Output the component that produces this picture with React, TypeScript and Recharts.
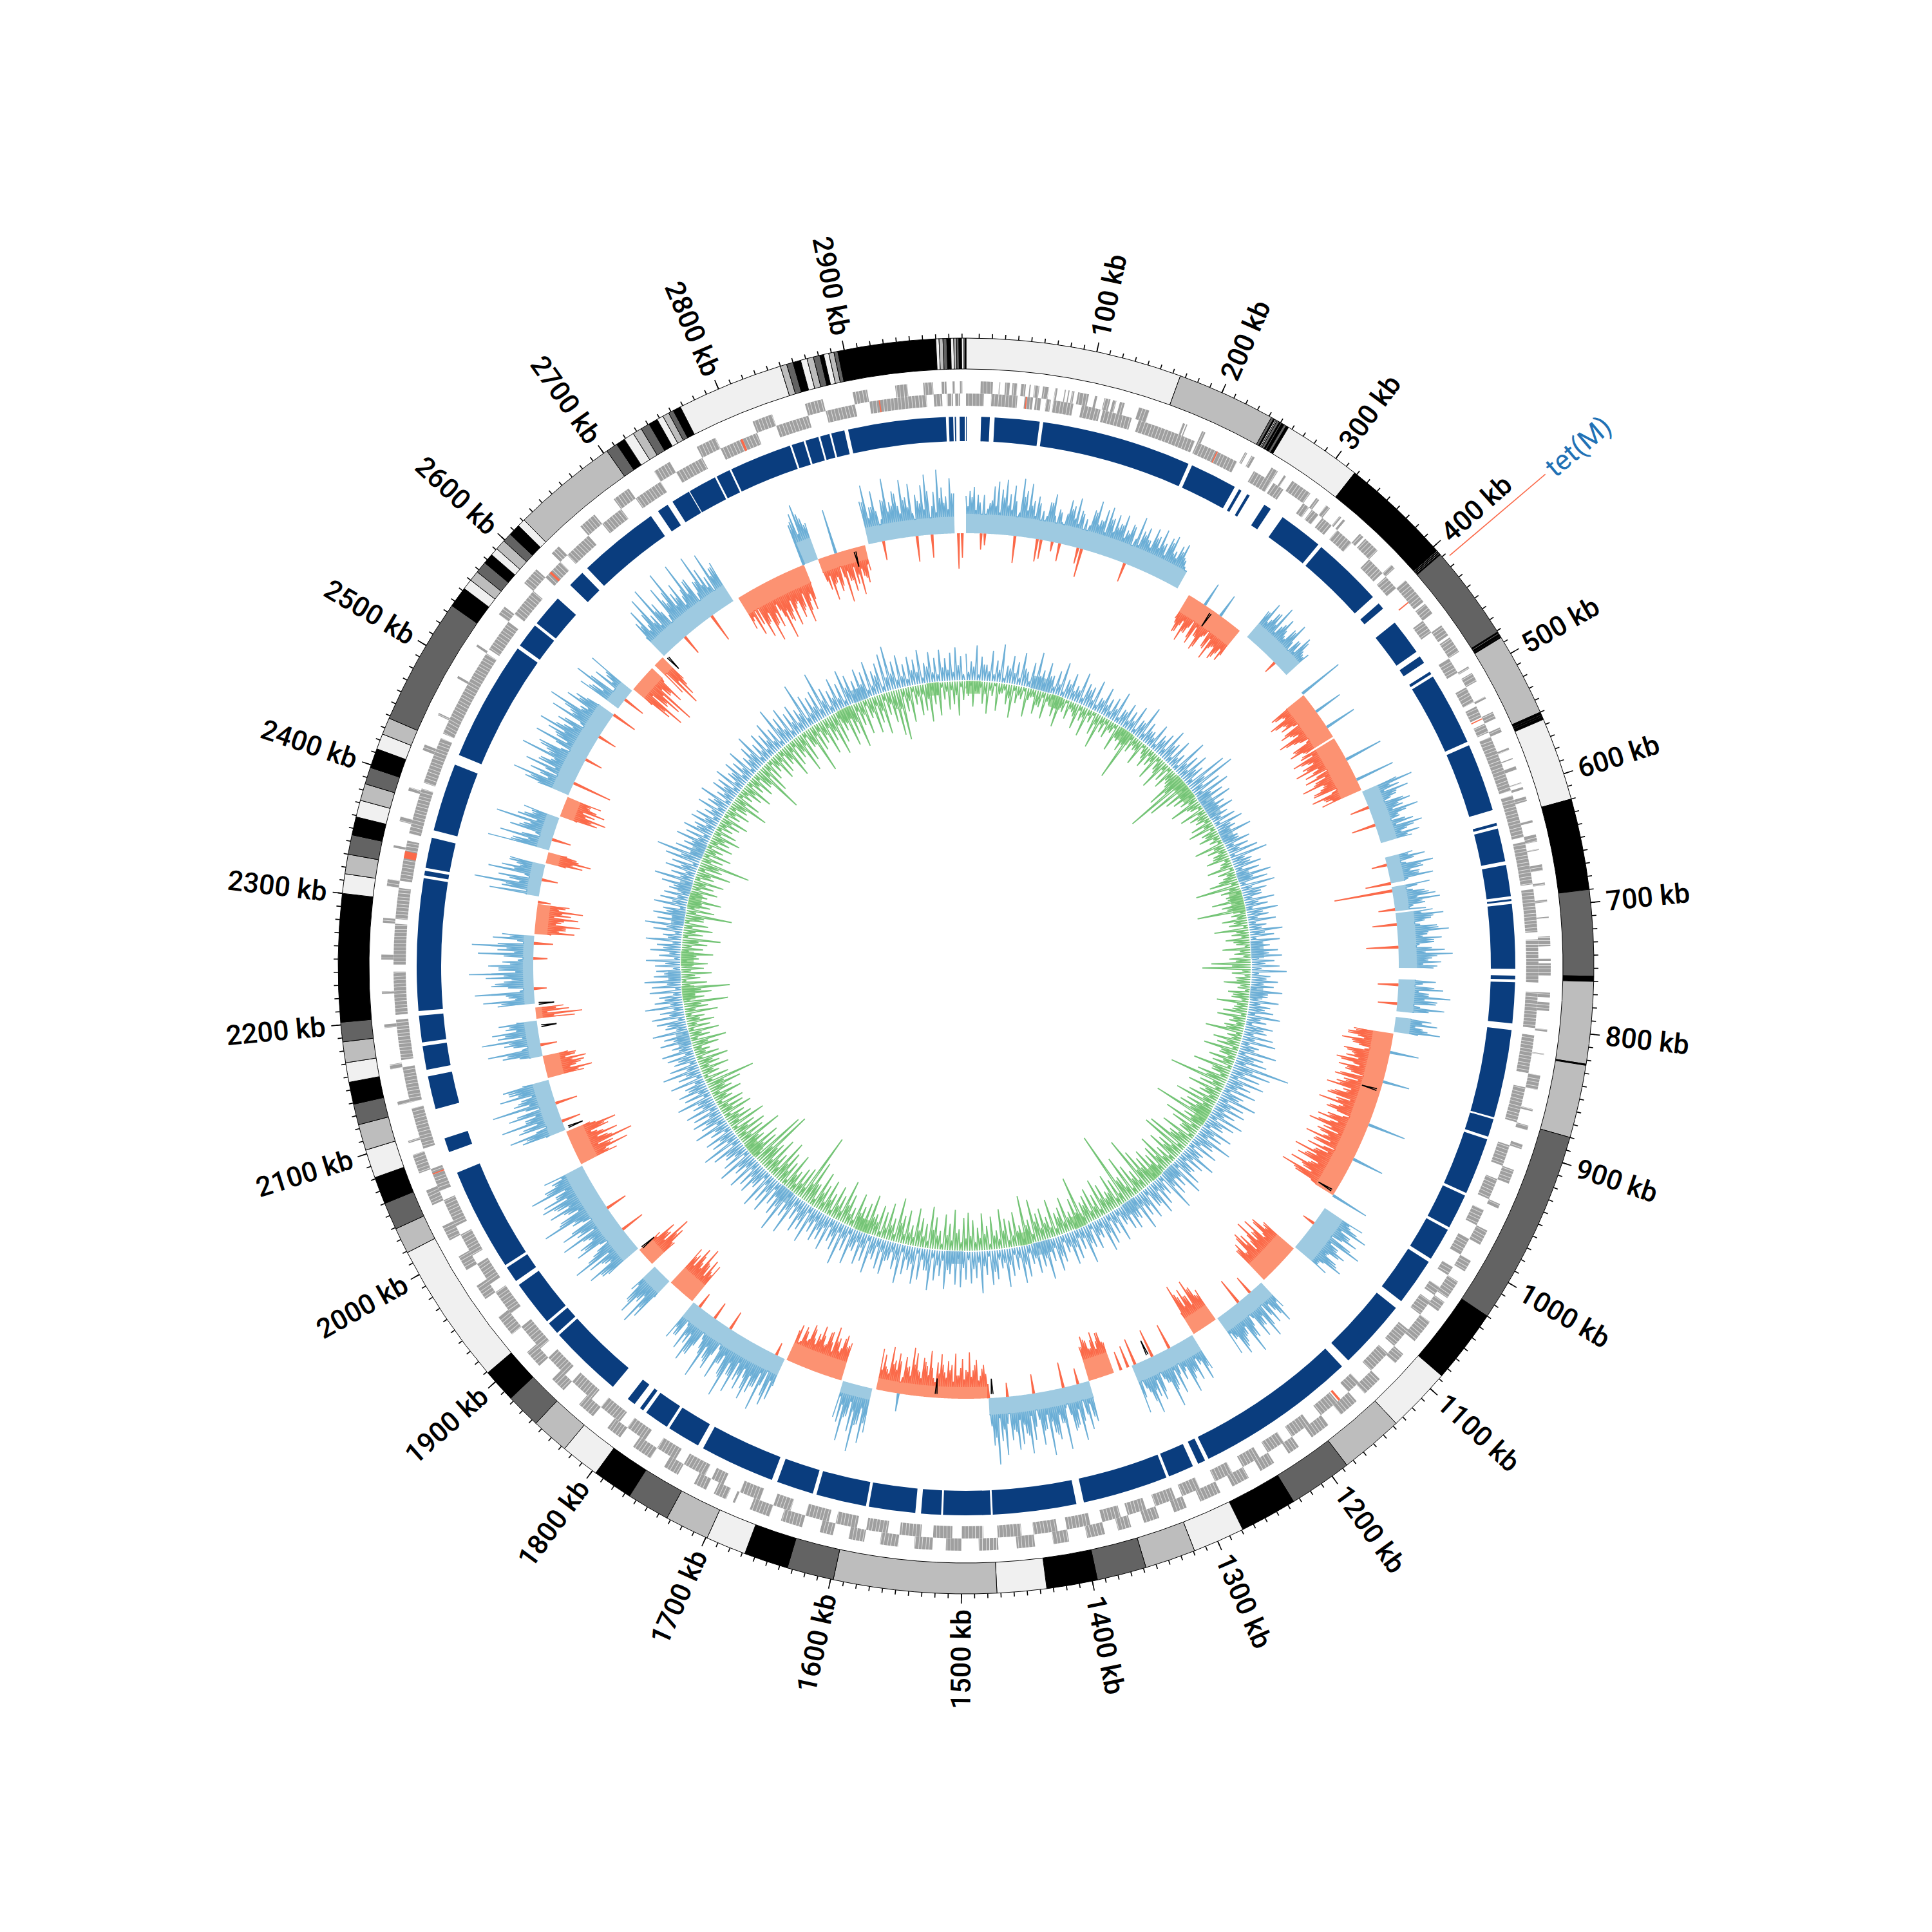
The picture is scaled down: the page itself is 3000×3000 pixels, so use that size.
import React from 'react';
import { Cell, Pie, PieChart, PolarAngleAxis, PolarRadiusAxis, RadialBar, RadialBarChart, Radar, RadarChart } from 'recharts';

const GENOME_KB = 2993;
const CENTER = 3000;
const NO_MARGIN = { top: 0, right: 0, bottom: 0, left: 0 };
const LABEL_FONT = 'Roboto, sans-serif';

const SHADES: Record<string, string> = { L: '#f0f0f0', M: '#bdbdbd', D: '#636363', K: '#000000' };

// contig bands of the outer ring: end of each band in kb, then its shade
const bandEnds = [
  166, 242, 244, 245, 246, 247, 249, 250, 251, 253, 255, 257, 318, 404, 404.6, 405.2, 405.8, 406.4, 407, 408, 481, 482, 483, 484.5, 485, 486,
  550, 552, 552.5, 553.5, 554, 556, 620, 690, 756, 760, 823, 824, 880, 1030, 1087, 1137, 1186, 1235, 1279, 1319, 1358, 1396, 1435, 1473,
  1598, 1634, 1668, 1699, 1733, 1766, 1797, 1827, 1856, 1883, 1909, 2019, 2039, 2060, 2081, 2103, 2123, 2139, 2156, 2171, 2187, 2202, 2300,
  2315, 2330, 2345, 2359, 2372, 2385, 2398, 2413, 2425, 2438, 2536, 2552, 2560, 2568, 2577, 2585, 2591, 2599, 2606, 2615, 2621, 2703, 2712,
  2719, 2727, 2734, 2741, 2748, 2753, 2758, 2762, 2768, 2850, 2855, 2860, 2866, 2871, 2876, 2881, 2884, 2888, 2892, 2895, 2970, 2972.5,
  2975.5, 2978.4, 2981.3, 2983.7, 2985.7, 2987.6, 2989.6, 2991.5, 2992.3, 2993,
];
const bandShades = [
  'LMDKLMDKDKDKLKLKLKLKDKDKDK',
  'MKLKLKLKDKMKMDKLMDKLMDKL',
  'MDKLMDKLMDKLMDKLMDKLMDK',
  'LMDKLMDKLMDKLMDKLMDKLMD',
  'KLMDKLMDKLMDKLMDKLMDKL',
  'MDKLMDKLMK',
].join('');

// contigs of the dark blue ring: pairs of start and end, in degrees clockwise from the top
const contigEdges = [
  0, 0.07, 1.58, 2.49, 2.99, 7.72, 8.09, 23.9, 24.3, 29.3, 29.8, 30.1, 30.8, 31.1, 32.9, 33.7, 35.2, 39.9, 40.3, 47.8, 48.7, 49.4, 51.3, 55.1,
  55.7, 56.5, 57.6, 57.9, 58.2, 65.9, 66.3, 73.5, 74.9, 75.2, 75.5, 79, 79.4, 82.7, 83, 83.2, 83.5, 90.3, 91, 91.4, 91.7, 96, 96.7, 106, 106.2,
  108.1, 108.4, 114.4, 114.7, 118.4, 118.7, 122.2, 122.6, 127.6, 128.5, 135.9, 136.8, 153.8, 154.2, 155, 155.6, 158.3, 158.6, 167.6, 168.4, 177.2,
  177.4, 182.4, 182.6, 184.7, 185.3, 190.2, 190.5, 195.8, 196.2, 200.1, 200.7, 208.6, 209.2, 212.7, 213, 215.6, 216, 216.4, 217.1, 218, 220, 227.8,
  228.1, 229.4, 229.7, 234.5, 235, 236.7, 237, 247.9, 250.2, 251.7, 254.9, 258.4, 259.1, 261.6, 262, 264.8, 265.3, 279.2, 279.5, 280, 280.3, 283.5,
  284.3, 291.5, 292.6, 305.3, 305.7, 308.3, 308.6, 312, 313.9, 315.7, 316.4, 325, 325.9, 327.1, 327.7, 329.7, 329.8, 332.8, 333, 334.5, 334.7, 341.3,
  341.5, 342.8, 343, 344.4, 344.6, 345.6, 345.8, 347.2, 347.6, 357.9, 358.2, 358.66, 358.82, 358.95, 359.33, 359.87,
];

// gene blocks on each strand: pairs of start and end in kb
const outerGenes = [
  12, 22, 27, 28, 32, 36, 38, 42, 45, 49, 52, 53, 56, 60, 63, 68, 73, 75, 81, 82, 84, 85, 87, 89, 92, 101, 106, 108, 114, 119, 121, 124, 127, 131, 143, 152, 181, 183, 184, 185,
  198, 201, 237, 239, 243, 246, 262, 268, 274, 276, 282, 300, 306, 309, 316, 320, 330, 332, 334, 336, 352, 356, 358, 372, 388, 392, 405, 428, 430, 440, 452, 462, 464, 478, 492, 494,
  498, 506, 520, 522, 534, 540, 548, 552, 566, 568, 575, 576, 582, 585, 596, 597, 600, 602, 608, 612, 628, 630, 640, 646, 652, 653, 665, 670, 680, 682, 694, 696, 708, 709, 724, 732,
  742, 744, 746, 756, 770, 774, 778, 785, 800, 802, 820, 821, 838, 850, 866, 868, 880, 884, 896, 900, 918, 930, 948, 952, 972, 985, 1000, 1010, 1020, 1036, 1040, 1049, 1060, 1080,
  1094, 1104, 1122, 1139, 1148, 1165, 1178, 1195, 1208, 1218, 1232, 1245, 1256, 1271, 1282, 1300, 1312, 1323, 1336, 1349, 1360, 1371, 1382, 1397, 1412, 1425, 1440, 1455, 1470, 1486,
  1500, 1513, 1524, 1539, 1552, 1567, 1580, 1593, 1606, 1617, 1632, 1650, 1660, 1677, 1690, 1692, 1698, 1709, 1716, 1727, 1742, 1755, 1768, 1785, 1798, 1811, 1826, 1841, 1858, 1871,
  1886, 1901, 1920, 1938, 1956, 1969, 1984, 1997, 2012, 2025, 2044, 2057, 2072, 2088, 2098, 2100, 2130, 2133, 2160, 2164, 2194, 2197, 2222, 2224, 2250, 2254, 2280, 2284, 2310, 2316,
  2342, 2344, 2364, 2368, 2390, 2393, 2425, 2430, 2456, 2458, 2490, 2492, 2520, 2522, 2552, 2560, 2585, 2600, 2618, 2626, 2650, 2665, 2685, 2700, 2725, 2740, 2765, 2782, 2815, 2832,
  2860, 2875, 2900, 2912, 2935, 2945, 2958, 2966, 2973, 2977, 2982, 2984, 2988, 2990,
];
const innerGenes = [
  0, 15, 21, 43, 49, 56, 58, 63, 67, 71, 73, 90, 97, 113, 115, 140, 146, 196, 198, 235, 251, 268, 270, 280, 300, 306, 309, 316, 320, 330, 336, 352, 372, 388, 392, 405,
  440, 452, 478, 492, 506, 520, 524, 534, 540, 548, 552, 600, 604, 640, 644, 680, 684, 720, 726, 762, 770, 800, 806, 838, 850, 880, 900, 918, 930, 948, 958, 972, 985, 1000,
  1012, 1020, 1032, 1040, 1046, 1060, 1076, 1094, 1102, 1122, 1136, 1148, 1160, 1178, 1190, 1208, 1216, 1232, 1240, 1256, 1266, 1282, 1296, 1312, 1318, 1336, 1344, 1360, 1366, 1382,
  1392, 1412, 1420, 1440, 1450, 1470, 1482, 1500, 1508, 1524, 1534, 1552, 1562, 1580, 1588, 1606, 1612, 1632, 1645, 1660, 1672, 1690, 1705, 1716, 1722, 1742, 1750, 1768, 1780, 1798,
  1806, 1826, 1836, 1858, 1866, 1886, 1896, 1920, 1934, 1956, 1964, 1984, 1992, 2012, 2020, 2044, 2052, 2072, 2090, 2125, 2130, 2160, 2166, 2200, 2204, 2240, 2246, 2280, 2284, 2310,
  2316, 2350, 2356, 2395, 2400, 2440, 2444, 2520, 2524, 2552, 2560, 2585, 2600, 2618, 2626, 2650, 2665, 2685, 2700, 2725, 2740, 2765, 2782, 2815, 2832, 2860, 2875, 2900, 2912, 2960,
  2966, 2973, 2977, 2982, 2984, 2988,
];
const redGenes = [50, 51, 216, 217, 420, 421, 535, 536, 1157, 1159, 2067, 2068, 2335, 2341, 2605, 2607, 2800, 2802, 2920, 2921];

// signed regions of the outer signal track: start, end (degrees), filled band height
const skewStarts = [0, 31, 40.5, 51.25, 58.25, 66.25, 75.5, 79.5, 83, 91.75, 96.75, 99, 124, 130.75, 137, 144.75, 148.5, 160, 163.5, 177, 192.5, 196.75, 204.75, 219.25, 223.25, 226.5, 229.25, 242.75, 247.75, 255, 258, 263, 265, 274.25, 279.25, 283.75, 285.5, 290.25, 293.25, 306.5, 309.75, 314, 315.75, 328.25, 338, 340, 347];
const skewEnds = [29.25, 39.25, 47.75, 58, 66, 73.5, 79, 82.75, 90.25, 96, 98.75, 122, 130.5, 136.5, 144.5, 148.25, 157.5, 163.5, 177, 192, 196.5, 204.5, 219, 223, 226, 229, 242.5, 247.5, 254.75, 258, 262.75, 264.5, 274, 278.25, 283.5, 285.25, 290, 293, 305.5, 309.5, 313.5, 315.5, 327.5, 338, 340, 346.5, 358.5];
const skewBands = [30, -30, 28, -34, -34, 26, 22, 22, 28, 26, 24, -32, 34, -34, 26, -28, 28, -34, 26, -18, 18, -30, 28, -32, 26, -26, 30, -28, 26, -26, 20, -10, 16, -20, 20, -20, 20, -22, 28, 22, -22, -22, 30, -30, 36, -22, 26];

// peaks of the outer signal track, one line per 30 degrees, one value per half degree
const skewPeaks = [
  [58, 66, 72, 60, -25, -18, 48, 74, 82, 70, 86, 64, 78, -42, 90, 72, 84, 58, 66, -35, -30, 60, 74, -15, 48, -28, 70, 62, 76, 58, -25, -45, 64, 80, 52, 70, 76, 60, 68, 56, 72, 50, 62, -30, 78, 58, 66, 48, 70, 60, 74, 54, 66, 72, 50, 62, 68, 44, 0, 0],
  [0, 0, -42, -62, -48, -71, -55, 38, -66, -50, -70, -44, 37, -58, -72, -48, -65, -52, -60, 0, 0, 52, 70, 45, 62, 78, 48, 66, 40, 58, 72, -20, 50, 64, 44, 38, 0, 0, 0, 0, 0, 0, 72, -65, -48, -75, -55, -62, 45, -70, -52, -80, -58, 50, -66, -74, -50, -62, -78, -56],
  [-68, -82, -56, 60, -74, -60, -84, -52, -70, 62, -78, -58, -66, 82, 58, 70, 48, -30, 66, 52, 74, 40, -38, 60, 72, 46, 64, 50, 0, 0, 0, 44, 62, -24, 72, 55, 48, 68, -40, 60, -91, 50, 66, 72, 48, -26, 58, 74, 54, -38, 62, 80, 46, 68, 56, -50, 72, 84, 52, 66],
  [60, 0, 0, 0, 58, -32, 70, 48, 82, 62, -30, 74, 0, 0, 56, 66, 44, 72, -62, -70, -54, -78, -60, 45, -72, -58, -66, -80, -52, -74, -62, 42, -76, -60, -70, -84, -56, -68, -78, -62, -88, -54, -72, 60, -66, -80, -58, -90, -64, -72, -52, -86, -68, 50, -76, -60, -92, -70, -82, -56],
  [-88, -64, -98, -72, 60, 0, 0, 0, 70, 52, 84, 60, 76, -20, 90, 56, 72, 48, 66, 80, 44, 62, -60, -78, -52, -85, -66, -90, -58, -74, -82, -50, -70, -62, 50, 72, 46, 64, -30, 80, 54, 70, -42, 62, 84, 48, 58, 74, 44, 66, -48, -66, -80, -58, -72, -62, -84, 60, 74, 46],
  [68, 52, 82, 44, -40, 74, 58, 90, 48, -45, 70, 62, 86, 50, -42, 78, -35, 0, -30, 0, -50, -68, -56, -72, -48, -62, -70, -55, 56, 74, -25, 88, 62, 70, -40, 96, 54, 78, 66, 100, 58, 82, -30, 72, 92, 60, 76, 84, 52, -22, 90, 68, 104, 74, -22, -52, -35, -60, -44, -72],
  [-45, -62, -36, -70, -52, -58, -40, -68, -55, -30, -72, -48, -60, -38, -66, -74, -44, -58, 28, -62, -50, -70, -34, -56, -64, 70, 88, 60, 104, 74, 52, 92, 64, 58, -55, -70, -48, -62, -78, -52, -66, -44, -72, -58, -48, -68, -40, -60, -32, -50, 70, 82, -20, 96, 62, 74, 88, 56, 78, 66],
  [90, 64, 104, 70, 56, 84, -30, 76, 62, 98, 52, -28, 72, 86, 60, 74, -25, 58, 68, -50, -72, -60, -85, -56, -78, -62, -70, 76, 92, 58, 84, 66, 50, -48, -70, -85, -55, -66, -42, 70, 88, 54, 78, 100, 62, -38, 82, 72, 52, 94, 64, 86, -34, 60, 106, 74, 56, 84, 68, 90],
  [84, 60, 98, 72, 56, 66, -50, -84, -62, -96, -58, -76, -45, -66, -80, -40, 70, 88, -30, 62, 94, 54, 78, -35, 100, 64, 50, 82, 66, 74, -58, -72, -48, -62, -66, -50, -40, 62, 84, -26, 56, 90, 64, 72, 50, 60, -60, -72, -52, -44, 58, 80, 40, 92, -20, 66, 46, 74, 100, 54],
  [70, 48, -22, 86, 56, 96, -30, 64, 50, -62, -48, -70, -40, -66, -54, -72, -44, -20, 0, 78, 60, 104, 50, -25, 86, 66, 44, 56, -58, -70, -46, 98, 60, 82, -30, 70, 50, 96, 64, 42, 58, -60, -72, -52, -66, -40, -56, 74, 96, 54, -62, 84, 66, 48, 100, 62, 78, -28, 90, 58],
  [76, 94, 56, 70, -30, 88, 60, 100, 50, 78, 66, -40, 0, 72, 54, 88, -35, 62, 46, 80, -70, -90, -58, -76, -95, -50, -66, 0, -60, -85, -72, -46, 66, 84, 52, 96, 60, 104, 72, -32, 90, 58, 108, 66, 78, 52, 104, 70, -45, 60, 100, 74, 56, 92, 64, 70, 0, -44, -70, -56],
  [-80, -58, -92, -66, -74, -50, -98, -70, -60, -84, -52, -76, -62, -88, -56, -72, 66, 82, 94, 70, 60, -52, -70, -44, -60, 70, -80, -48, -66, -56, -74, -46, -58, -40, 68, 92, 56, 80, -30, 64, 96, 58, 74, 50, 90, 62, 82, -40, 54, 78, 94, -36, 66, 100, 72, 58, 86, 62, -55, -38],
];
// smaller peaks between those, measured from the filled band outwards, same layout
const skewSmall = [
  [12, 26, 6, 18, 30, 9, 22, 14, 4, 28, 16, 10, 24, 7, 32, 12, 20, 5, 26, 15, 8, 30, 11, 22, 3, 18, 27, 13, 6, 24, 17, 9, 31, 14, 21, 5, 28, 10, 19, 25, 7, 16, 29, 12, 4, 23, 18, 8, 26, 13, 20, 6, 30, 15, 10, 24, 17, 5, 0, 0],
  [0, 0, 18, 30, 9, 24, 14, 28, 6, 20, 34, 11, 26, 8, 22, 16, 30, 12, 19, 0, 0, 24, 10, 32, 16, 6, 26, 20, 9, 28, 14, 22, 5, 30, 12, 18, 0, 0, 0, 0, 0, 0, 0, 26, 12, 34, 18, 8, 28, 22, 10, 36, 15, 6, 30, 19, 24, 9, 32, 14],
  [28, 12, 36, 20, 8, 30, 16, 24, 38, 10, 26, 14, 32, 18, 6, 24, 12, 30, 20, 8, 28, 15, 22, 5, 32, 10, 18, 26, 0, 0, 0, 14, 22, 8, 30, 12, 24, 6, 28, 18, 10, 34, 15, 22, 7, 26, 12, 30, 16, 8, 36, 20, 11, 28, 5, 24, 14, 32, 18, 10],
  [26, 0, 0, 0, 12, 30, 6, 22, 16, 34, 10, 24, 0, 0, 18, 8, 28, 14, 26, 38, 12, 30, 18, 8, 34, 22, 14, 40, 10, 28, 20, 36, 6, 24, 32, 12, 18, 42, 8, 26, 16, 36, 22, 10, 30, 14, 44, 20, 6, 34, 26, 12, 38, 18, 8, 30, 22, 40, 14, 28],
  [36, 16, 44, 10, 24, 0, 0, 0, 14, 32, 8, 26, 18, 38, 6, 22, 30, 12, 36, 16, 10, 28, 20, 40, 12, 30, 18, 34, 8, 24, 42, 16, 28, 10, 12, 30, 6, 22, 36, 14, 26, 8, 18, 32, 10, 24, 38, 16, 5, 28, 22, 36, 12, 30, 16, 40, 10, 26, 14, 6],
  [24, 34, 10, 28, 16, 6, 36, 20, 12, 30, 8, 22, 38, 14, 26, 10, 0, 0, 0, 0, 18, 34, 10, 26, 14, 30, 20, 38, 8, 24, 32, 12, 40, 18, 6, 28, 14, 44, 22, 10, 34, 16, 26, 8, 38, 20, 12, 30, 42, 16, 24, 6, 36, 18, 20, 28, 10, 34, 16, 24],
  [12, 30, 18, 8, 26, 14, 34, 20, 6, 28, 16, 36, 10, 22, 30, 12, 24, 8, 32, 18, 26, 10, 20, 14, 28, 38, 16, 44, 24, 10, 36, 18, 6, 30, 22, 34, 12, 26, 8, 38, 16, 28, 20, 10, 32, 14, 24, 6, 30, 18, 12, 40, 26, 8, 34, 20, 44, 14, 28, 10],
  [36, 18, 46, 12, 28, 8, 22, 38, 16, 32, 10, 26, 42, 14, 20, 6, 30, 18, 36, 22, 10, 30, 16, 34, 12, 24, 8, 36, 18, 28, 42, 12, 24, 20, 34, 14, 26, 8, 30, 40, 16, 28, 10, 44, 22, 12, 36, 18, 30, 6, 26, 38, 14, 24, 48, 10, 32, 20, 42, 16],
  [30, 12, 40, 22, 8, 34, 18, 28, 10, 36, 14, 26, 8, 32, 20, 6, 36, 18, 44, 12, 28, 10, 38, 22, 14, 30, 6, 26, 40, 16, 24, 12, 30, 18, 8, 26, 16, 34, 10, 22, 28, 6, 32, 14, 24, 12, 18, 8, 22, 10, 36, 14, 28, 6, 24, 44, 18, 30, 12, 38],
  [20, 8, 30, 14, 26, 40, 10, 22, 6, 18, 28, 12, 24, 8, 20, 14, 30, 10, 0, 0, 34, 14, 48, 8, 26, 18, 36, 12, 22, 30, 10, 42, 16, 28, 8, 36, 20, 12, 34, 24, 6, 28, 16, 10, 30, 18, 24, 38, 12, 44, 22, 8, 36, 16, 28, 46, 14, 26, 10, 34],
  [22, 40, 14, 32, 8, 26, 44, 18, 10, 30, 20, 6, 24, 36, 14, 42, 0, 10, 28, 16, 38, 8, 32, 20, 12, 26, 6, 18, 0, 22, 34, 10, 28, 14, 40, 18, 8, 30, 24, 12, 36, 46, 16, 26, 8, 32, 20, 42, 12, 28, 18, 10, 0, 22, 34, 14, 26, 8, 0, 0],
  [30, 14, 38, 20, 8, 32, 24, 44, 12, 28, 18, 36, 10, 40, 16, 26, 34, 12, 42, 22, 16, 8, 24, 14, 30, 18, 10, 26, 6, 20, 12, 28, 8, 16, 40, 14, 30, 22, 8, 36, 18, 26, 44, 12, 32, 20, 10, 38, 24, 14, 42, 18, 8, 30, 22, 12, 36, 16, 0, 0],
];
// short black ticks that sit on the outer track, degrees
const skewBlackMarks = [34.75, 106.75, 121.5, 155, 176.5, 184, 229, 248, 262, 265, 316, 345];

// inner signal track, one value per degree, one line per 30 degrees
const depthPeaks = [
  [42, 30, 55, 38, 26, 48, 34, 60, 28, 44, 36, 52, 24, 40, 58, 32, 46, 28, 38, 54, 30, 42, 26, 50, 36, 34, 48, 24, 44, 30],
  [36, 50, 26, 40, 32, 46, 28, 56, 34, 24, 42, 30, 38, 52, 34, 46, 28, 60, 40, 50, 36, 70, 79, 48, 58, 42, 50, 34, 44, 30],
  [38, 46, 30, 52, 26, 42, 36, 48, 60, 32, 44, 38, 54, 46, 55, 40, 30, 48, 36, 50, 34, 44, 28, 52, 38, 46, 30, 42, 48, 36],
  [44, 55, 30, 42, 36, 50, 28, 46, 34, 40, 52, 32, 44, 36, 48, 54, 30, 60, 42, 50, 89, 62, 48, 58, 40, 52, 36, 60, 44, 50],
  [38, 56, 46, 32, 52, 40, 62, 36, 48, 30, 56, 42, 34, 50, 60, 38, 46, 66, 32, 44, 54, 36, 50, 40, 58, 34, 46, 42, 30, 52],
  [36, 48, 56, 30, 44, 38, 60, 34, 46, 52, 30, 42, 54, 36, 62, 40, 48, 32, 50, 58, 36, 44, 60, 30, 46, 54, 38, 66, 42, 50],
  [44, 56, 52, 36, 60, 40, 48, 64, 34, 50, 58, 38, 46, 62, 42, 30, 54, 48, 36, 60, 44, 52, 34, 58, 40, 66, 46, 36, 54, 42],
  [48, 38, 60, 44, 52, 36, 66, 42, 73, 50, 38, 58, 46, 62, 34, 50, 44, 56, 38, 60, 46, 36, 52, 64, 42, 48, 34, 56, 40, 50],
  [44, 52, 36, 58, 42, 48, 34, 54, 38, 60, 46, 36, 44, 50, 32, 48, 40, 56, 34, 46, 52, 38, 60, 44, 36, 50, 46, 57, 42, 38],
  [40, 54, 34, 48, 38, 56, 30, 46, 60, 42, 50, 36, 52, 44, 40, 34, 48, 62, 38, 50, 42, 56, 73, 46, 36, 52, 40, 48, 34, 44],
  [40, 30, 46, 34, 52, 28, 42, 38, 48, 32, 44, 36, 50, 30, 42, 56, 34, 46, 38, 52, 36, 65, 44, 54, 40, 48, 36, 74, 50, 42],
  [48, 74, 44, 36, 52, 40, 58, 46, 34, 50, 42, 56, 38, 48, 60, 70, 44, 52, 36, 46, 40, 54, 32, 48, 38, 50, 36, 44, 52, 38],
];
const depthPeaksMinor = [
  [14, 22, 10, 26, 16, 12, 20, 8, 24, 18, 12, 28, 10, 16, 22, 14, 26, 12, 18, 9, 24, 16, 20, 11, 28, 14, 10, 22, 18, 12],
  [20, 10, 24, 14, 18, 9, 26, 12, 22, 16, 10, 24, 14, 28, 12, 18, 10, 22, 16, 26, 12, 30, 20, 14, 24, 10, 18, 22, 12, 16],
  [10, 24, 18, 12, 26, 14, 20, 9, 22, 28, 12, 16, 24, 10, 18, 30, 14, 22, 11, 26, 16, 12, 20, 24, 10, 18, 14, 28, 12, 22],
  [16, 12, 24, 20, 10, 28, 14, 18, 26, 12, 22, 10, 30, 16, 20, 14, 24, 12, 28, 18, 32, 22, 14, 26, 20, 12, 30, 16, 24, 18],
  [22, 14, 28, 12, 24, 18, 32, 16, 10, 26, 20, 14, 30, 12, 24, 18, 28, 10, 22, 16, 34, 12, 26, 20, 14, 30, 18, 24, 12, 20],
  [12, 28, 16, 24, 10, 30, 18, 14, 26, 22, 12, 32, 16, 20, 28, 10, 24, 14, 30, 18, 12, 26, 22, 16, 34, 10, 24, 18, 28, 14],
  [26, 12, 20, 30, 16, 24, 14, 34, 18, 10, 28, 22, 12, 26, 16, 32, 20, 14, 28, 10, 24, 18, 30, 12, 22, 16, 26, 14, 20, 28],
  [18, 24, 12, 30, 20, 16, 28, 10, 34, 22, 14, 26, 18, 12, 30, 24, 16, 20, 28, 10, 22, 32, 14, 18, 26, 12, 24, 16, 30, 20],
  [14, 22, 26, 12, 18, 30, 16, 10, 24, 20, 12, 28, 14, 22, 16, 26, 10, 18, 30, 12, 24, 16, 20, 28, 14, 10, 22, 18, 26, 12],
  [24, 10, 18, 28, 14, 22, 12, 26, 16, 20, 30, 10, 24, 18, 14, 28, 12, 22, 16, 26, 10, 32, 20, 14, 24, 18, 12, 28, 16, 22],
  [12, 20, 14, 26, 10, 18, 24, 12, 16, 28, 14, 20, 10, 22, 26, 12, 18, 14, 24, 16, 10, 28, 20, 12, 22, 16, 26, 14, 18, 24],
  [16, 26, 12, 22, 18, 10, 28, 14, 20, 24, 12, 16, 30, 10, 22, 26, 14, 18, 12, 24, 20, 10, 26, 16, 12, 22, 18, 14, 24, 10],
];
const depthDips = [
  [-24, -40, -18, -35, -50, -22, -44, -16, -32, -52, -28, -20, -46, -14, -38, -26, -42, -18, -34, -48, -22, -30, -16, -40, -24, -46, -20, -36, -55, -26],
  [-30, -18, -44, -24, -36, -80, -28, -20, -40, -16, -34, -26, -44, -22, -50, -30, -38, -24, -60, -103, -70, -45, -36, -28, -50, -20, -42, -30, -24, -36],
  [-44, -26, -34, -20, -48, -30, -24, -38, -18, -42, -28, -22, -46, -70, -32, -26, -50, -36, -76, -24, -40, -30, -54, -28, -38, -22, -44, -26, -34, -62],
  [-76, -30, -24, -42, -20, -34, -28, -50, -22, -38, -46, -26, -32, -60, -24, -44, -36, -55, -28, -42, -34, -62, -30, -50, -92, -40, -56, -34, -48, -66],
  [-44, -52, -90, -36, -64, -48, -30, -56, -38, -70, -75, -42, -54, -34, -60, -46, -38, -52, -44, -62, -88, -36, -50, -70, -40, -119, -44, -56, -32, -48],
  [-60, -38, -52, -44, -36, -80, -48, -30, -56, -42, -36, -60, -34, -50, -44, -68, -38, -77, -32, -54, -42, -46, -62, -30, -52, -38, -58, -36, -48, -60],
  [-52, -34, -64, -42, -56, -30, -50, -66, -38, -46, -60, -32, -54, -44, -70, -36, -58, -42, -50, -34, -62, -46, -38, -56, -30, -48, -68, -40, -52, -36],
  [-54, -42, -60, -36, -70, -112, -50, -44, -34, -58, -40, -52, -66, -38, -60, -46, -98, -90, -48, -56, -36, -70, -44, -52, -38, -60, -42, -34, -50, -40],
  [-44, -30, -48, -36, -54, -79, -40, -28, -46, -34, -50, -38, -26, -42, -56, -32, -48, -36, -44, -30, -52, -38, -70, -34, -46, -75, -40, -30, -48, -36],
  [-42, -28, -50, -34, -40, -60, -32, -46, -38, -30, -73, -44, -36, -52, -28, -42, -34, -48, -30, -54, -38, -80, -34, -44, -28, -40, -32, -46, -36, -26],
  [-34, -44, -26, -38, -30, -60, -42, -24, -36, -48, -28, -40, -32, -80, -50, -34, -26, -44, -38, -30, -56, -42, -34, -62, -48, -30, -76, -44, -36, -58],
  [-40, -66, -50, -34, -62, -46, -70, -38, -54, -32, -58, -44, -64, -36, -50, -72, -81, -38, -56, -30, -48, -42, -60, -34, -52, -28, -44, -36, -54, -30],
];
const depthDipsMinor = [
  [-12, -8, -16, -10, -20, -14, -6, -18, -11, -22, -9, -15, -7, -19, -12, -24, -10, -14, -8, -20, -16, -6, -13, -22, -9, -17, -11, -7, -18, -14],
  [-10, -16, -8, -20, -12, -24, -9, -14, -18, -7, -22, -11, -16, -9, -26, -13, -8, -20, -28, -34, -18, -12, -22, -10, -16, -24, -8, -14, -19, -11],
  [-16, -9, -22, -12, -8, -18, -14, -26, -10, -20, -7, -15, -30, -12, -18, -9, -24, -14, -28, -10, -16, -22, -8, -20, -13, -26, -9, -17, -12, -24],
  [-30, -14, -10, -22, -16, -8, -26, -12, -18, -24, -9, -20, -14, -28, -11, -16, -22, -10, -26, -13, -18, -8, -30, -14, -34, -20, -12, -26, -16, -22],
  [-18, -26, -32, -12, -22, -16, -28, -10, -24, -34, -14, -20, -30, -12, -18, -26, -14, -22, -10, -28, -30, -16, -24, -12, -20, -36, -18, -14, -28, -22],
  [-26, -12, -20, -16, -30, -14, -24, -10, -22, -18, -28, -12, -16, -26, -20, -32, -14, -30, -10, -24, -18, -12, -28, -16, -22, -10, -26, -20, -14, -24],
  [-20, -14, -28, -16, -24, -10, -22, -30, -12, -18, -26, -14, -20, -16, -32, -12, -24, -18, -10, -22, -28, -14, -20, -26, -12, -18, -30, -16, -22, -10],
  [-24, -16, -28, -12, -34, -30, -18, -20, -14, -26, -10, -22, -30, -16, -24, -18, -36, -32, -12, -26, -14, -28, -20, -16, -24, -10, -18, -22, -12, -20],
  [-16, -10, -22, -14, -26, -28, -12, -8, -20, -16, -24, -10, -18, -14, -26, -12, -20, -9, -16, -22, -10, -18, -28, -12, -20, -30, -14, -8, -22, -16],
  [-18, -10, -24, -12, -16, -26, -9, -20, -14, -8, -30, -16, -12, -22, -10, -18, -14, -20, -9, -24, -12, -32, -16, -10, -18, -8, -14, -22, -12, -9],
  [-14, -18, -8, -16, -12, -26, -20, -9, -14, -22, -10, -18, -12, -30, -20, -14, -9, -18, -16, -11, -24, -16, -12, -26, -20, -10, -28, -18, -14, -24],
  [-16, -26, -20, -12, -24, -18, -28, -14, -22, -10, -24, -16, -26, -12, -20, -30, -32, -14, -22, -10, -18, -16, -24, -12, -20, -9, -16, -14, -22, -10],
];

// thick patches where the inner track fills solid, degrees
const depthUpPatches = [13, 17, 54, 59, 62, 64.5, 71, 73, 85, 88.5, 94, 96.5, 134, 136.5, 144, 147, 163, 166.5, 180.5, 184, 217, 220, 254, 257, 267, 269, 278, 281, 284.5, 287, 292, 295, 337, 340];
const depthDownPatches = [0, 3, 17.5, 20, 33, 36, 48, 53.5, 74.5, 79, 120.5, 124, 136.5, 139, 155, 157.5, 166.5, 169, 200, 203, 228, 231, 263, 266, 270, 273, 282, 285, 333, 336, 352, 354.5];

const majorTicks = [100, 200, 300, 400, 500, 600, 700, 800, 900, 1000, 1100, 1200, 1300, 1400, 1500, 1600, 1700, 1800, 1900, 2000, 2100, 2200, 2300, 2400, 2500, 2600, 2700, 2800, 2900];
const minorTicks = Array.from({ length: 299 }, (_, i) => (i + 1) * 10);
const tetMTick = [413];
const stripeAngles = Array.from({ length: 72 }, (_, i) => i * 5);

// alternate empty and drawn slices so a ring can be laid out by a Pie
function toSlices(edges: number[], total: number) {
  const slices: { size: number; drawn: boolean; mid: number }[] = [];
  let cursor = 0;
  for (let i = 0; i < edges.length; i += 2) {
    slices.push({ size: Math.max(edges[i] - cursor, 0), drawn: false, mid: 0 });
    slices.push({ size: edges[i + 1] - edges[i], drawn: true, mid: (edges[i] + edges[i + 1]) / 2 / total });
    cursor = edges[i + 1];
  }
  slices.push({ size: Math.max(total - cursor, 0), drawn: false, mid: 0 });
  return slices;
}

const bandRows = bandEnds.map((end, i) => ({ size: end - (i ? bandEnds[i - 1] : 0), shade: bandShades[i] || 'L' }));
const contigRows = toSlices(contigEdges, 360);
const outerGeneRows = toSlices(outerGenes, GENOME_KB);
const innerGeneRows = toSlices(innerGenes, GENOME_KB);
const redGeneRows = toSlices(redGenes, GENOME_KB);
const depthUpRows = toSlices(depthUpPatches, 360);
const depthDownRows = toSlices(depthDownPatches, 360);

const geneFill = (row: { drawn: boolean; mid: number }) => (row.drawn ? `url(#gene-stripes-${Math.round(row.mid * 72) % 72})` : 'none');

// eighth of a degree grid for the outer track: big peaks at every half degree, small ones between
const SKEW_STEPS = 2880;
const skewGrid = Array.from({ length: SKEW_STEPS }, (_, j) => ({ j }));
const halfStep = (j: number) => Math.floor(j / 4);
const skewAt = (j: number) => (j % 4 === 0 ? (skewPeaks[Math.floor(j / 240)][halfStep(j) % 60] ?? 0) : 0);
const smallAt = (j: number) => skewSmall[Math.floor(j / 240)][halfStep(j) % 60] ?? 0;

const skewRegionKeys = skewStarts.map((start, r) => (row: { j: number }) => {
  const { j } = row;
  if (j < start * 8 || j > skewEnds[r] * 8) return null;
  const band = skewBands[r];
  if (j % 2) return [0, band];
  if (j % 4 === 2) return [0, band > 0 ? band + smallAt(j) : band - smallAt(j)];
  const v = skewAt(j);
  if (band > 0) return [0, v > band ? v : band];
  return [0, v < band ? v : band];
});

const regionOf = (j: number) => skewStarts.findIndex((start, r) => j >= start * 8 && j <= skewEnds[r] * 8);
const overlayKey = (sign: number) => (row: { j: number }) => {
  const spike = (k: number) => {
    const v = skewAt(((k % SKEW_STEPS) + SKEW_STEPS) % SKEW_STEPS);
    if (v * sign <= 0) return false;
    const r = regionOf(k);
    return r < 0 || skewBands[r] * sign < 0;
  };
  if (spike(row.j)) return skewAt(row.j);
  if (spike(row.j - 1) || spike(row.j + 1)) return 0;
  return null;
};
const skewUpKey = overlayKey(1);
const skewDownKey = overlayKey(-1);
const skewBlackKey = (row: { j: number }) => {
  if (skewBlackMarks.includes(row.j / 8)) return -30;
  if (skewBlackMarks.includes((row.j - 1) / 8) || skewBlackMarks.includes((row.j + 1) / 8)) return -6;
  return null;
};

// quarter degree grid for the inner track, big and small peaks take turns
const depthGrid = Array.from({ length: 1440 }, (_, j) => ({ j }));
const depthUpKey = (row: { j: number }) => {
  const { j } = row;
  if (j % 2) return 1;
  const deg = Math.floor(j / 4);
  return (j % 4 === 0 ? depthPeaks : depthPeaksMinor)[Math.floor(deg / 30)][deg % 30];
};
const depthDownKey = (row: { j: number }) => {
  const { j } = row;
  if (j % 2) return -1;
  const deg = Math.floor(j / 4);
  return (j % 4 === 2 ? depthDips : depthDipsMinor)[Math.floor(deg / 30)][deg % 30];
};

const hiddenRadial = [{ v: 0 }];

const pathThrough = (points: { x: number; y: number }[]) => points.map((p, i) => `${i ? 'L' : 'M'}${p.x},${p.y}`).join('');

// a missing value lands on the centre, so only the runs of present points are drawn
const runsOf = (points: any[]) => {
  const runs: any[][] = [];
  let current: any[] = [];
  points.forEach((p) => {
    if (p.value === null || p.value === undefined) {
      if (current.length) runs.push(current);
      current = [];
    } else {
      current.push(p);
    }
  });
  if (current.length) runs.push(current);
  return runs;
};

const trackShape = (baseRadius: number) => (props: any) => {
  const { points, stroke, strokeWidth, fill } = props;
  return (
    <g>
      {runsOf(points).map((run, i) => {
        const base = run.map((p: any) => {
          const a = (-p.angle * Math.PI) / 180;
          return { x: p.cx + baseRadius * Math.cos(a), y: p.cy + baseRadius * Math.sin(a) };
        });
        const ranged = Array.isArray(run[0].value);
        const outline = pathThrough(run);
        return (
          <g key={i}>
            {fill !== 'none' ? <path d={ranged ? `${outline}L${pathThrough([...base].reverse()).slice(1)}Z` : `${outline}Z`} fill={fill} stroke="none" /> : null}
            <path d={outline} fill="none" stroke={stroke} strokeWidth={strokeWidth} strokeLinejoin="bevel" />
          </g>
        );
      })}
    </g>
  );
};
const skewShape = trackShape(672);
const depthShape = trackShape(443);

function KbLabel({ x, y, payload }: any) {
  const theta = (payload.value / GENOME_KB) * 360;
  const right = theta <= 180;
  const rad = (theta * Math.PI) / 180;
  const px = x + 9 * Math.sin(rad);
  const py = y - 9 * Math.cos(rad);
  return (
    <text
      x={px}
      y={py}
      transform={`rotate(${right ? theta - 90 : theta + 90} ${px} ${py})`}
      textAnchor={right ? 'start' : 'end'}
      dominantBaseline="central"
      fontFamily={LABEL_FONT}
      fontSize={43}
      fontWeight={500}
      fill="#000"
    >
      {payload.value} kb
    </text>
  );
}

function TetMLabel({ x, y }: any) {
  const px = x + 6;
  const py = y - 5;
  return (
    <text x={px} y={py} transform={`rotate(-40.3 ${px} ${py})`} textAnchor="start" dominantBaseline="central" fontFamily={LABEL_FONT} fontSize={43} fill="#2171b5">
      tet(M)
    </text>
  );
}

function TickRing({ radius, ticks, size, tick, stroke }: any) {
  return (
    <div style={{ position: 'absolute', left: 0, top: 0 }}>
      <RadialBarChart width={CENTER} height={CENTER} cx={1500} cy={1500} innerRadius={radius - 1} outerRadius={radius} startAngle={90} endAngle={-270} data={hiddenRadial} margin={NO_MARGIN}>
        <PolarAngleAxis type="number" domain={[0, GENOME_KB]} ticks={ticks} tickSize={size} tick={tick} axisLine={false} tickLine={{ stroke, strokeWidth: 1.6 }} stroke={stroke} />
        <RadialBar dataKey="v" isAnimationActive={false} fill="none" />
      </RadialBarChart>
    </div>
  );
}

export default function App() {
  return (
    <div style={{ position: 'absolute', left: 0, top: 0, width: CENTER, height: CENTER, background: '#fff' }}>
      <div style={{ position: 'absolute', left: 0, top: 0 }}>
        <PieChart width={CENTER} height={CENTER} margin={NO_MARGIN}>
          <defs>
            {stripeAngles.map((a, i) => (
              <pattern key={i} id={`gene-stripes-${i}`} width={11} height={11} patternUnits="userSpaceOnUse" patternTransform={`rotate(${a})`}>
                <rect width={11} height={11} fill="#9f9f9f" />
                <rect x={3} width={0.7} height={11} fill="#fff" />
                <rect x={8} width={0.6} height={11} fill="#fff" />
              </pattern>
            ))}
          </defs>
          <Pie data={bandRows} dataKey="size" cx="50%" cy="50%" innerRadius={927} outerRadius={975} startAngle={90} endAngle={-270} stroke="#000" strokeWidth={1} isAnimationActive={false}>
            {bandRows.map((row, i) => (
              <Cell key={i} fill={SHADES[row.shade]} />
            ))}
          </Pie>
          <Pie data={outerGeneRows} dataKey="size" cx="50%" cy="50%" innerRadius={889} outerRadius={908} startAngle={90} endAngle={-270} stroke="none" isAnimationActive={false}>
            {outerGeneRows.map((row, i) => (
              <Cell key={i} fill={geneFill(row)} />
            ))}
          </Pie>
          <Pie data={innerGeneRows} dataKey="size" cx="50%" cy="50%" innerRadius={870} outerRadius={889} startAngle={90} endAngle={-270} stroke="none" isAnimationActive={false}>
            {innerGeneRows.map((row, i) => (
              <Cell key={i} fill={geneFill(row)} />
            ))}
          </Pie>
          <Pie data={redGeneRows} dataKey="size" cx="50%" cy="50%" innerRadius={870} outerRadius={889} startAngle={90} endAngle={-270} stroke="none" isAnimationActive={false}>
            {redGeneRows.map((row, i) => (
              <Cell key={i} fill={row.drawn ? '#fb6a4a' : 'none'} />
            ))}
          </Pie>
          <Pie data={contigRows} dataKey="size" cx="50%" cy="50%" innerRadius={815} outerRadius={853} startAngle={90} endAngle={-270} stroke="none" isAnimationActive={false}>
            {contigRows.map((row, i) => (
              <Cell key={i} fill={row.drawn ? '#0a3d7e' : 'none'} />
            ))}
          </Pie>
          <Pie data={depthUpRows} dataKey="size" cx="50%" cy="50%" innerRadius={443} outerRadius={463} startAngle={90} endAngle={-270} stroke="none" isAnimationActive={false}>
            {depthUpRows.map((row, i) => (
              <Cell key={i} fill={row.drawn ? '#9ecae1' : 'none'} />
            ))}
          </Pie>
          <Pie data={depthDownRows} dataKey="size" cx="50%" cy="50%" innerRadius={423} outerRadius={443} startAngle={90} endAngle={-270} stroke="none" isAnimationActive={false}>
            {depthDownRows.map((row, i) => (
              <Cell key={i} fill={row.drawn ? '#a1d99b' : 'none'} />
            ))}
          </Pie>
        </PieChart>
      </div>

      <div style={{ position: 'absolute', left: 0, top: 0 }}>
        <RadarChart width={CENTER} height={CENTER} cx={1500} cy={1500} innerRadius={572} outerRadius={782} data={skewGrid} margin={NO_MARGIN}>
          <PolarAngleAxis dataKey="j" tick={false} tickLine={false} axisLine={false} />
          <PolarRadiusAxis domain={[-100, 110]} tick={false} axisLine={false} />
          {skewRegionKeys.map((key, r) => (
            <Radar
              key={r}
              dataKey={key}
              stroke={skewBands[r] > 0 ? '#6baed6' : '#fb6a4a'}
              strokeWidth={1.6}
              fill={skewBands[r] > 0 ? '#9ecae1' : '#fc9272'}
              dot={false}
              shape={skewShape}
              isAnimationActive={false}
            />
          ))}
          <Radar dataKey={skewUpKey} stroke="#6baed6" strokeWidth={1.6} fill="#6baed6" dot={false} shape={skewShape} isAnimationActive={false} />
          <Radar dataKey={skewDownKey} stroke="#fb6a4a" strokeWidth={1.6} fill="#fb6a4a" dot={false} shape={skewShape} isAnimationActive={false} />
          <Radar dataKey={skewBlackKey} stroke="#000" strokeWidth={1.6} fill="none" dot={false} shape={skewShape} isAnimationActive={false} />
        </RadarChart>
      </div>

      <div style={{ position: 'absolute', left: 0, top: 0 }}>
        <RadarChart width={CENTER} height={CENTER} cx={1500} cy={1500} innerRadius={313} outerRadius={543} data={depthGrid} margin={NO_MARGIN}>
          <PolarAngleAxis dataKey="j" tick={false} tickLine={false} axisLine={false} />
          <PolarRadiusAxis domain={[-130, 100]} tick={false} axisLine={false} />
          <Radar dataKey={depthUpKey} stroke="#6baed6" strokeWidth={1.7} fill="none" dot={false} shape={depthShape} isAnimationActive={false} />
          <Radar dataKey={depthDownKey} stroke="#74c476" strokeWidth={1.7} fill="none" dot={false} shape={depthShape} isAnimationActive={false} />
        </RadarChart>
      </div>

      <TickRing radius={975} ticks={minorTicks} size={7} tick={false} stroke="#000" />
      <TickRing radius={975} ticks={majorTicks} size={15} tick={<KbLabel />} stroke="#000" />
      <TickRing radius={985} ticks={tetMTick} size={195} tick={<TetMLabel />} stroke="#fb6a4a" />
    </div>
  );
}
